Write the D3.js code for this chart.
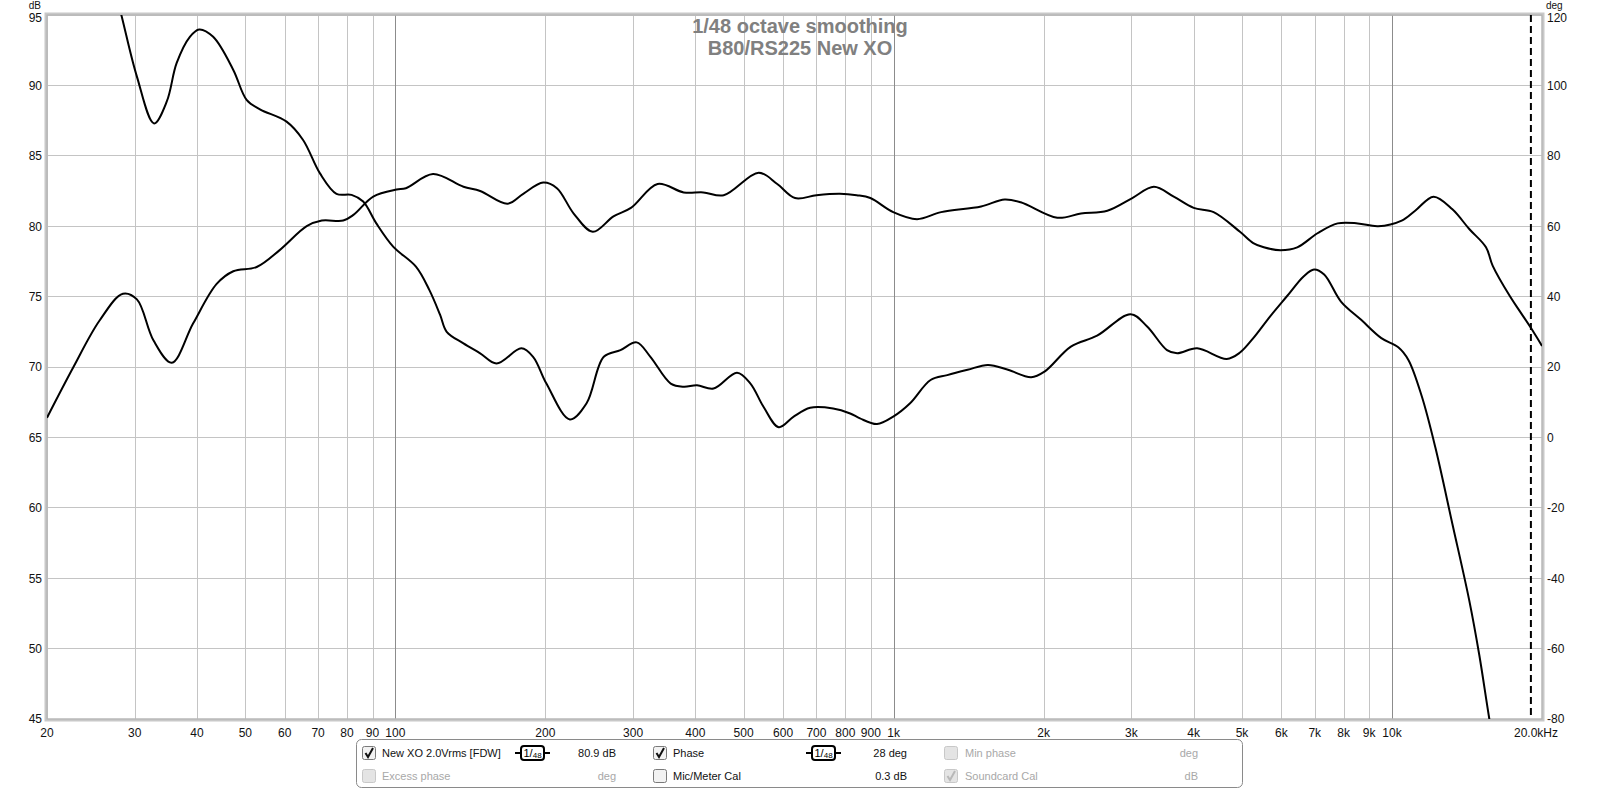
<!DOCTYPE html>
<html>
<head>
<meta charset="utf-8">
<script src="https://cdn.jsdelivr.net/npm/d3@7"></script>
<style>
  html, body { margin: 0; padding: 0; background: #fff; }
  svg { display: block; font-family: "Liberation Sans", Arial, sans-serif; }
</style>
</head>
<body>
<svg id="chart" width="1600" height="790"></svg>
<script>
// ---------------- DATA ----------------
const titleLines = ["1/48 octave smoothing", "B80/RS225 New XO"];

const freqGrid = [20,30,40,50,60,70,80,90,100,200,300,400,500,600,700,800,900,
                  1000,2000,3000,4000,5000,6000,7000,8000,9000,10000,20000];
const freqLabels = ["20","30","40","50","60","70","80","90","100","200","300","400","500","600","700","800","900",
                    "1k","2k","3k","4k","5k","6k","7k","8k","9k","10k","20.0kHz"];
const decadeLines = [100, 1000, 10000];

const dbTicks = [95,90,85,80,75,70,65,60,55,50,45];
const degTicks = [120,100,80,60,40,20,0,-20,-40,-60,-80];

// SPL curve (dB, left axis)
const splFreq = [20,22.6,25.5,28.4,30.3,32.7,35.6,39.3,43.8,47.3,52.7,58.6,66.4,71.2,78.6,82.4,90.3,100.6,105,
  119,137,148,168,180.6,198,211,228,249,274,297,336,379,415,456,536,584,634,700,780,843,898,998,1114,1245,
  1498,1670,1799,2130,2376,2684,3012,3328,3648,4000,4386,4954,5268,5530,5974,6454,7088,7780,8540,9380,
  10460,11130,12120,13220,14290,15440,15920,17260,18100,18980,20000];
const splDb = [66.4,70.0,73.3,75.2,74.8,71.9,70.3,73.1,75.9,76.8,77.1,78.3,80.0,80.4,80.4,80.8,82.1,82.6,82.7,
  83.7,82.8,82.5,81.6,82.3,83.1,82.7,80.9,79.6,80.7,81.3,83.0,82.4,82.4,82.2,83.8,83.0,82.0,82.2,82.3,82.2,82.0,81.0,80.5,81.0,
  81.4,81.9,81.7,80.6,80.9,81.1,82.0,82.8,82.1,81.3,81.0,79.6,78.8,78.5,78.3,78.5,79.5,80.2,80.2,80.0,
  80.4,81.1,82.1,81.2,79.8,78.5,77.2,75.0,73.9,72.8,71.5];

// Phase curve (deg, right axis)
const phaseFreq = [26,28.2,30.3,32.8,34.8,36.4,38.7,40.4,43.1,47.3,50.3,53.5,60.5,65.3,70.6,76.2,81.7,86.2,91.6,99,
  110,117,123,126.8,137,148,159.6,179,189,201,224,242,262,283,305,325,357,379,403,435,485,516,548,588,630,680,
  756,818,856,926,998,1079,1186,1281,1407,1546,1696,1888,2008,2268,2560,2988,3226,3536,3706,4064,4660,4954,
  5268,5696,6154,6654,6974,7310,7900,8672,9520,10294,10788,11480,12220,13220,14290,14972,15680,16500];
const phaseDeg = [140,120,102.5,89.2,95.5,106.3,113.8,115.9,113.8,104.4,95.9,93.2,89.7,84.5,75.0,69.2,68.9,67.0,60.8,54.2,
  48.5,41.9,34.8,30.0,26.7,23.9,21.0,25.3,22.9,15.3,5.1,9.7,22.9,24.8,27.0,22.9,15.3,14.4,14.8,13.9,18.4,15.3,8.7,2.9,5.9,8.4,
  8.2,6.8,5.4,3.8,5.9,9.7,16.3,17.7,19.2,20.6,19.2,17.1,18.7,25.8,28.9,35.0,31.5,24.8,23.9,25.3,22.3,24.1,
  28.2,34.4,40.1,45.8,47.7,46.3,38.6,33.4,28.2,25.6,22.0,11.6,-2.9,-24.6,-46.3,-61.9,-80,-98];

const cursorFreq = 19000;

const legendRow1 = [
  {type:"check", state:"on", x:362},
  {type:"text", text:"New XO 2.0Vrms [FDW]", x:382, anchor:"start", grey:false},
  {type:"smooth", x:515},
  {type:"text", text:"80.9 dB", x:616, anchor:"end", grey:false},
  {type:"check", state:"on", x:653},
  {type:"text", text:"Phase", x:673, anchor:"start", grey:false},
  {type:"smooth", x:806},
  {type:"text", text:"28 deg", x:907, anchor:"end", grey:false},
  {type:"check", state:"disabled", x:944},
  {type:"text", text:"Min phase", x:965, anchor:"start", grey:true},
  {type:"text", text:"deg", x:1198, anchor:"end", grey:true}
];
const legendRow2 = [
  {type:"check", state:"disabled", x:362},
  {type:"text", text:"Excess phase", x:382, anchor:"start", grey:true},
  {type:"text", text:"deg", x:616, anchor:"end", grey:true},
  {type:"check", state:"off", x:653},
  {type:"text", text:"Mic/Meter Cal", x:673, anchor:"start", grey:false},
  {type:"text", text:"0.3 dB", x:907, anchor:"end", grey:false},
  {type:"check", state:"disabledOn", x:944},
  {type:"text", text:"Soundcard Cal", x:965, anchor:"start", grey:true},
  {type:"text", text:"dB", x:1198, anchor:"end", grey:true}
];

// ---------------- DRAW ----------------
const svg = d3.select("#chart");
const L = 47, R = 1542, T = 15, B = 719;

const x = d3.scaleLog().domain([20, 20000]).range([L, R]);
const yDb = d3.scaleLinear().domain([45, 95]).range([B, T]);
const yDeg = d3.scaleLinear().domain([-80, 120]).range([B, T]);

svg.append("rect").attr("width", 1600).attr("height", 790).attr("fill", "#fff");

// grid
const grid = svg.append("g");
grid.selectAll("line.h").data(dbTicks).join("line")
  .attr("x1", L).attr("x2", R)
  .attr("y1", d => yDb(d)).attr("y2", d => yDb(d))
  .attr("stroke", "#c4c4c4").attr("stroke-width", 1).attr("shape-rendering", "crispEdges");
grid.selectAll("line.v").data(freqGrid).join("line")
  .attr("x1", d => Math.round(x(d)) + 0.5).attr("x2", d => Math.round(x(d)) + 0.5)
  .attr("y1", T).attr("y2", B)
  .attr("stroke", d => decadeLines.includes(d) ? "#8c8c8c" : "#c4c4c4")
  .attr("stroke-width", 1);

// frame
svg.append("rect").attr("x", L - 1).attr("y", T - 1).attr("width", R - L + 2).attr("height", B - T + 2)
  .attr("fill", "none").attr("stroke", "#c8c8c8").attr("stroke-width", 3);
svg.append("rect").attr("x", L).attr("y", T).attr("width", R - L).attr("height", B - T)
  .attr("fill", "none").attr("stroke", "#b0b0b0").attr("stroke-width", 1);

// title
svg.selectAll("text.title").data(titleLines).join("text")
  .attr("x", 800).attr("y", (d, i) => 33 + i * 21.5)
  .attr("text-anchor", "middle").attr("font-size", 20).attr("font-weight", "bold")
  .attr("fill", "#808080").text(d => d);

// axes labels
const axisFont = 12;
svg.selectAll("text.db").data(dbTicks).join("text")
  .attr("x", 42).attr("y", d => yDb(d) + (d === 95 ? 7.3 : 4.3))
  .attr("text-anchor", "end").attr("font-size", axisFont).attr("fill", "#111").text(d => d);
svg.append("text").attr("x", 41).attr("y", 9.2).attr("text-anchor", "end")
  .attr("font-size", 10).attr("fill", "#111").text("dB");

svg.selectAll("text.deg").data(degTicks).join("text")
  .attr("x", 1547).attr("y", d => yDeg(d) + (d === 120 ? 7.3 : 4.3))
  .attr("text-anchor", "start").attr("font-size", axisFont).attr("fill", "#111").text(d => d);
svg.append("text").attr("x", 1546).attr("y", 9.2).attr("text-anchor", "start")
  .attr("font-size", 10).attr("fill", "#111").text("deg");

svg.selectAll("text.f").data(freqGrid).join("text")
  .attr("x", (d, i) => x(d) + (i === freqGrid.length - 1 ? -6 : 0)).attr("y", 737)
  .attr("text-anchor", "middle").attr("font-size", axisFont).attr("fill", "#111")
  .text((d, i) => freqLabels[i]);

// clip
svg.append("clipPath").attr("id", "clip").append("rect")
  .attr("x", L).attr("y", T).attr("width", R - L).attr("height", B - T);

const plot = svg.append("g").attr("clip-path", "url(#clip)");

// cursor dashed line
plot.append("line")
  .attr("x1", x(cursorFreq)).attr("x2", x(cursorFreq)).attr("y1", T).attr("y2", B)
  .attr("stroke", "#000").attr("stroke-width", 2).attr("stroke-dasharray", "7,4");

const splData = splFreq.map((f, i) => [f, splDb[i]]);
const phaseData = phaseFreq.map((f, i) => [f, phaseDeg[i]]);

const curve = d3.curveCatmullRom.alpha(0.5);
plot.append("path").datum(phaseData)
  .attr("d", d3.line().x(d => x(d[0])).y(d => yDeg(d[1])).curve(curve))
  .attr("fill", "none").attr("stroke", "#000").attr("stroke-width", 2);
plot.append("path").datum(splData)
  .attr("d", d3.line().x(d => x(d[0])).y(d => yDb(d[1])).curve(curve))
  .attr("fill", "none").attr("stroke", "#000").attr("stroke-width", 2);

// legend
const lg = svg.append("g");
lg.append("rect").attr("x", 356.5).attr("y", 739.5).attr("width", 886).attr("height", 48).attr("rx", 5)
  .attr("fill", "#fff").attr("stroke", "#8a8a8a").attr("stroke-width", 1);

function drawRow(items, cy) {
  items.forEach(it => {
    if (it.type === "text") {
      lg.append("text").attr("x", it.x).attr("y", cy + 4).attr("text-anchor", it.anchor)
        .attr("font-size", 11).attr("fill", it.grey ? "#a8a8a8" : "#111").text(it.text);
    } else if (it.type === "check") {
      const dis = it.state.startsWith("disabled");
      lg.append("rect").attr("x", it.x + 0.5).attr("y", cy - 6.5).attr("width", 13).attr("height", 13).attr("rx", 2)
        .attr("fill", dis ? "#e4e4e4" : "#f2f2f2").attr("stroke", dis ? "#c8c8c8" : "#7a7a7a");
      if (it.state === "on" || it.state === "disabledOn") {
        lg.append("path")
          .attr("d", `M${it.x + 3.5},${cy} L${it.x + 6},${cy + 4} L${it.x + 11},${cy - 5}`)
          .attr("fill", "none").attr("stroke", it.state === "on" ? "#111" : "#b8b8b8").attr("stroke-width", 2);
      }
    } else if (it.type === "smooth") {
      lg.append("line").attr("x1", it.x).attr("x2", it.x + 35).attr("y1", cy).attr("y2", cy)
        .attr("stroke", "#000").attr("stroke-width", 2);
      lg.append("rect").attr("x", it.x + 6).attr("y", cy - 7).attr("width", 23).attr("height", 14).attr("rx", 3)
        .attr("fill", "#fff").attr("stroke", "#000").attr("stroke-width", 2);
      const t = lg.append("text").attr("x", it.x + 8.5).attr("y", cy + 4).attr("font-size", 11).attr("fill", "#000");
      t.append("tspan").text("1/");
      t.append("tspan").attr("font-size", 8).attr("dy", 1).text("48");
    }
  });
}
drawRow(legendRow1, 753);
drawRow(legendRow2, 776);
</script>
</body>
</html>
